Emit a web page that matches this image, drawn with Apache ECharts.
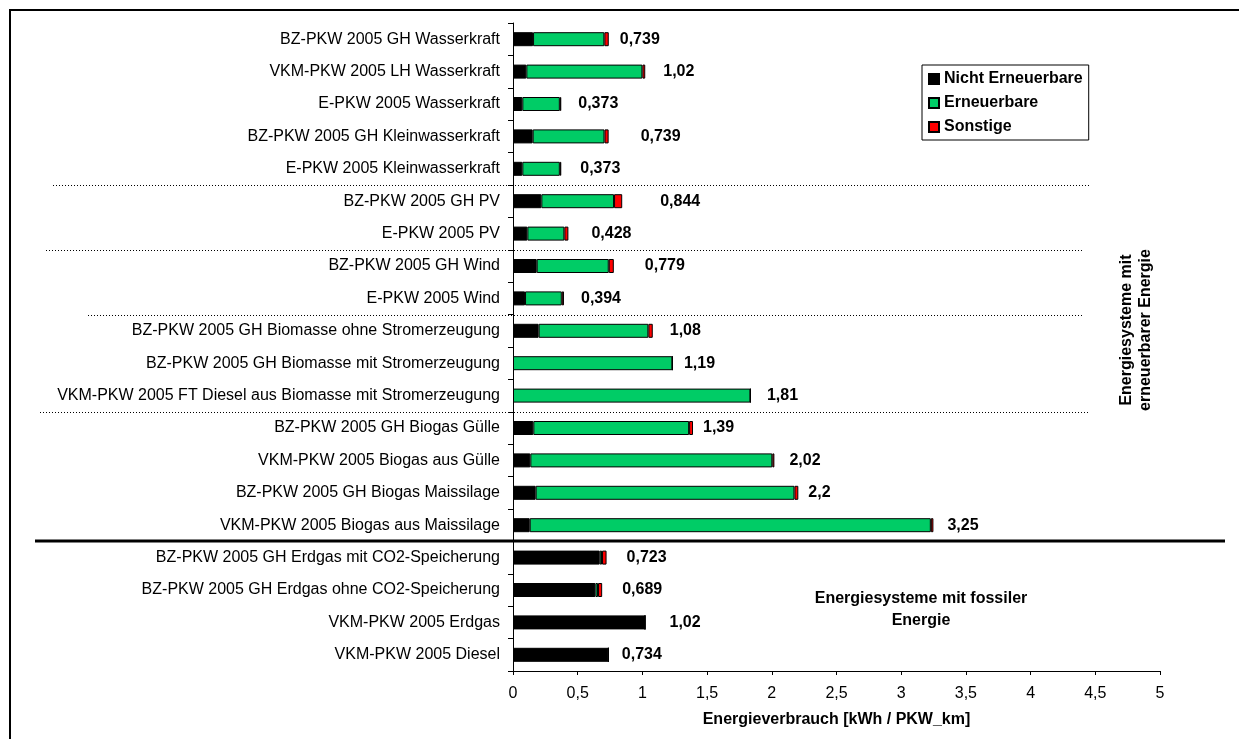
<!DOCTYPE html>
<html>
<head>
<meta charset="utf-8">
<script src="https://cdn.jsdelivr.net/npm/echarts@6/dist/echarts.min.js"></script>
<style>
  html, body { margin: 0; padding: 0; background: #fff; }
  #main { width: 1239px; height: 739px; }
</style>
</head>
<body>
<div id="main"></div>
<script>
// Energiesysteme, Kategorien von oben nach unten
const categories = [
  "BZ-PKW 2005 GH Wasserkraft",
  "VKM-PKW 2005 LH Wasserkraft",
  "E-PKW 2005 Wasserkraft",
  "BZ-PKW 2005 GH Kleinwasserkraft",
  "E-PKW 2005 Kleinwasserkraft",
  "BZ-PKW 2005 GH PV",
  "E-PKW 2005 PV",
  "BZ-PKW 2005 GH Wind",
  "E-PKW 2005 Wind",
  "BZ-PKW 2005 GH Biomasse ohne Stromerzeugung",
  "BZ-PKW 2005 GH Biomasse mit Stromerzeugung",
  "VKM-PKW 2005 FT Diesel aus Biomasse mit Stromerzeugung",
  "BZ-PKW 2005 GH Biogas Gülle",
  "VKM-PKW 2005 Biogas aus Gülle",
  "BZ-PKW 2005 GH Biogas Maissilage",
  "VKM-PKW 2005 Biogas aus Maissilage",
  "BZ-PKW 2005 GH Erdgas mit CO2-Speicherung",
  "BZ-PKW 2005 GH Erdgas ohne CO2-Speicherung",
  "VKM-PKW 2005 Erdgas",
  "VKM-PKW 2005 Diesel"
];
const nichtErneuerbare = [0.155, 0.103, 0.072, 0.152, 0.072, 0.219, 0.111, 0.183, 0.093, 0.198,
  -0.042, -0.025, 0.157, 0.134, 0.175, 0.129, 0.670, 0.637, 1.02, 0.737];
const erneuerbare = [0.551, 0.897, 0.290, 0.555, 0.290, 0.562, 0.286, 0.557, 0.284, 0.848,
  1.232, 1.835, 1.204, 1.870, 2.000, 3.100, 0.018, 0.020, 0, 0];
const sonstige = [0.034, 0.022, 0.011, 0.032, 0.011, 0.063, 0.031, 0.039, 0.017, 0.034,
  0, 0, 0.030, 0.016, 0.030, 0.020, 0.035, 0.032, 0, 0];
const summen = ["0,739", "1,02", "0,373", "0,739", "0,373", "0,844", "0,428", "0,779", "0,394", "1,08",
  "1,19", "1,81", "1,39", "2,02", "2,2", "3,25", "0,723", "0,689", "1,02", "0,734"];
const xTicks = [0, 0.5, 1, 1.5, 2, 2.5, 3, 3.5, 4, 4.5, 5];

// Abstand Balkenende -> Beschriftung (px), wie im Original von Hand gesetzt
const labelGap = [11, 18, 17, 32, 19, 38, 23, 31, 17, 17, 11, 16, 10, 15, 10, 14, 20, 20, 24, 13];

const FONT = "'Liberation Sans', Arial, sans-serif";
const chart = echarts.init(document.getElementById("main"));

const barStyle = (color) => ({ color: color, borderColor: "#000", borderWidth: 1 });

const option = {
  animation: false,
  textStyle: { fontFamily: FONT },
  grid: { left: 513, right: 79, top: 23, bottom: 68 },
  legend: {
    orient: "vertical",
    left: 922,
    top: 65,
    itemWidth: 10,
    itemHeight: 10,
    itemGap: 8,
    padding: [6, 6, 5, 6],
    borderColor: "#000",
    borderWidth: 1,
    icon: "rect",
    textStyle: { fontFamily: FONT, fontSize: 16, fontWeight: "bold", color: "#000" },
    data: ["Nicht Erneuerbare", "Erneuerbare", "Sonstige"]
  },
  xAxis: {
    type: "value",
    min: xTicks[0],
    max: xTicks[xTicks.length - 1],
    interval: 0.5,
    name: "Energieverbrauch [kWh / PKW_km]",
    nameLocation: "middle",
    nameGap: 41,
    nameTextStyle: { fontFamily: FONT, fontSize: 16, fontWeight: "bold", color: "#000" },
    axisLine: { show: true, lineStyle: { color: "#000", width: 1 } },
    axisTick: { show: true, length: 4, lineStyle: { color: "#000" } },
    axisLabel: {
      margin: 15,
      fontSize: 16,
      color: "#000",
      fontFamily: FONT,
      formatter: (v) => String(v).replace(".", ",")
    },
    splitLine: { show: false }
  },
  yAxis: {
    type: "category",
    inverse: true,
    data: categories,
    axisLine: { show: true, lineStyle: { color: "#000", width: 1 } },
    axisTick: { show: true, length: 5, lineStyle: { color: "#000" } },
    axisLabel: { margin: 13, fontSize: 16, color: "#000", fontFamily: FONT }
  },
  series: [
    {
      name: "Nicht Erneuerbare",
      type: "bar",
      stack: "e",
      barWidth: 14,
      itemStyle: barStyle("#000000"),
      data: nichtErneuerbare
    },
    {
      name: "Erneuerbare",
      type: "bar",
      stack: "e",
      barWidth: 14,
      itemStyle: barStyle("#00cc66"),
      data: erneuerbare
    },
    {
      name: "Sonstige",
      type: "bar",
      stack: "e",
      barWidth: 14,
      itemStyle: barStyle("#ff0000"),
      data: sonstige.map((v, i) => ({
        value: v,
        label: {
          show: true,
          position: "right",
          distance: labelGap[i],
          formatter: summen[i],
          fontFamily: FONT,
          fontSize: 16,
          fontWeight: "bold",
          color: "#000"
        }
      }))
    }
  ]
};

chart.setOption(option);

// Trennlinien zwischen den Gruppen
const seps = [
  { after: 5, x1: 53, x2: 1090, solid: false },
  { after: 7, x1: 46, x2: 1083, solid: false },
  { after: 9, x1: 88, x2: 1083, solid: false },
  { after: 12, x1: 40, x2: 1089, solid: false },
  { after: 16, x1: 35, x2: 1225, solid: true }
];
function boundaryY(i) {
  const a = chart.convertToPixel({ yAxisIndex: 0 }, categories[i - 1]);
  const b = chart.convertToPixel({ yAxisIndex: 0 }, categories[i]);
  return Math.round((a + b) / 2);
}
const graphics = [
  {
    type: "rect",
    silent: true,
    shape: { x: 10, y: 10, width: 1240, height: 740 },
    style: { fill: null, stroke: "#000", lineWidth: 2 }
  }
];
seps.forEach((s) => {
  const y = boundaryY(s.after);
  graphics.push({
    type: "line",
    silent: true,
    z: 10,
    shape: { x1: s.x1, y1: s.solid ? y : y + 0.5, x2: s.x2, y2: s.solid ? y : y + 0.5 },
    style: s.solid
      ? { stroke: "#000", lineWidth: 3 }
      : { stroke: "#000", lineWidth: 1, lineDash: [1, 2] }
  });
});
graphics.push({
  type: "text",
  silent: true,
  x: 1136,
  y: 330,
  rotation: Math.PI / 2,
  style: {
    text: "Energiesysteme mit\nerneuerbarer Energie",
    fill: "#000",
    font: "bold 16px " + FONT,
    textAlign: "center",
    textVerticalAlign: "middle",
    lineHeight: 19
  }
});
graphics.push({
  type: "text",
  silent: true,
  x: 921,
  y: 610,
  style: {
    text: "Energiesysteme mit fossiler\nEnergie",
    fill: "#000",
    font: "bold 16px " + FONT,
    textAlign: "center",
    textVerticalAlign: "middle",
    lineHeight: 22
  }
});
chart.setOption({ graphic: graphics });
</script>
</body>
</html>
